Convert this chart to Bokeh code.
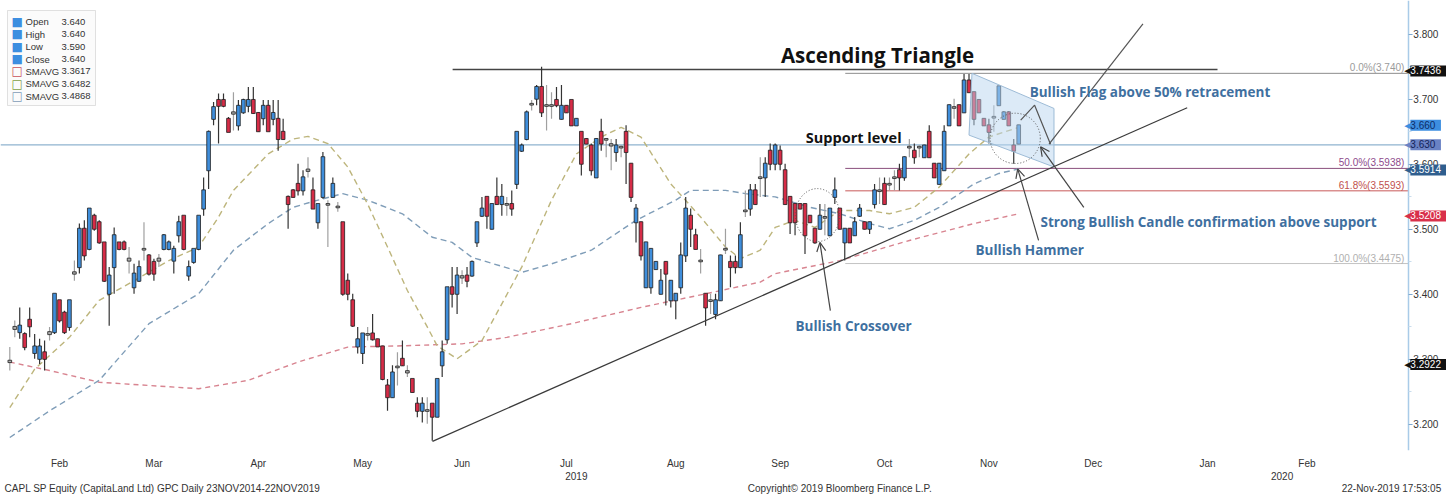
from bokeh.plotting import figure
from bokeh.models import (FixedTicker, LinearAxis, Label, Arrow, OpenHead, BoxAnnotation,
                          NumeralTickFormatter, Range1d, ColumnDataSource)
from bokeh.embed import file_html
from bokeh.resources import INLINE

# ---------------- data (daily OHLC, trading-day index 0..203) ----------------
opens = [3.296,3.347,3.342,3.339,3.361,3.310,3.301,3.311,3.339,3.342,3.391,3.372,3.350,3.432,3.442,3.501,3.470,3.521,3.511,3.480,
         3.401,3.442,3.480,3.480,3.452,3.411,3.421,3.469,3.460,3.450,3.452,3.470,3.470,3.452,3.491,3.521,3.429,3.450,3.470,3.532,
         3.591,3.670,3.699,3.699,3.670,3.678,3.660,3.680,3.690,3.699,3.679,3.671,3.690,3.670,3.670,3.650,3.550,3.560,3.570,3.560,
         3.590,3.560,3.511,3.550,3.538,3.550,3.534,3.511,3.421,3.391,3.320,3.310,3.338,3.340,3.331,3.320,3.260,3.242,3.288,3.301,
         3.280,3.270,3.232,3.221,3.221,3.232,3.212,3.291,3.331,3.411,3.401,3.426,3.429,3.429,3.480,3.521,3.550,3.501,3.550,3.539,
         3.538,3.539,3.570,3.621,3.639,3.692,3.701,3.719,3.690,3.690,3.699,3.670,3.690,3.699,3.660,3.650,3.639,3.629,3.580,3.650,
         3.638,3.629,3.619,3.626,3.650,3.601,3.511,3.511,3.411,3.411,3.439,3.401,3.450,3.391,3.391,3.411,3.460,3.521,3.491,3.451,
         3.401,3.390,3.370,3.391,3.469,3.450,3.450,3.442,3.528,3.532,3.560,3.579,3.580,3.621,3.601,3.621,3.591,3.550,3.539,3.539,
         3.539,3.521,3.501,3.501,3.518,3.491,3.550,3.532,3.480,3.501,3.491,3.521,3.511,3.501,3.539,3.559,3.570,3.569,3.579,3.591,
         3.580,3.626,3.621,3.626,3.611,3.650,3.601,3.570,3.591,3.660,3.687,3.691,3.680,3.729,3.711,3.699,3.670,3.660,3.672,3.691,
         3.670,3.680,3.629,3.632]
highs = [3.319,3.360,3.380,3.342,3.380,3.339,3.332,3.329,3.350,3.401,3.391,3.375,3.391,3.452,3.509,3.514,3.532,3.524,3.514,3.480,
         3.442,3.503,3.480,3.483,3.473,3.447,3.452,3.511,3.462,3.455,3.462,3.493,3.483,3.475,3.521,3.521,3.452,3.470,3.521,3.580,
         3.652,3.696,3.709,3.709,3.673,3.711,3.699,3.701,3.719,3.719,3.680,3.699,3.699,3.699,3.699,3.670,3.552,3.562,3.601,3.591,
         3.611,3.580,3.539,3.619,3.545,3.580,3.542,3.511,3.432,3.401,3.350,3.340,3.350,3.370,3.332,3.321,3.270,3.291,3.311,3.329,
         3.291,3.270,3.242,3.242,3.242,3.232,3.270,3.329,3.411,3.442,3.442,3.437,3.442,3.452,3.511,3.550,3.550,3.540,3.580,3.570,
         3.550,3.560,3.650,3.632,3.683,3.699,3.722,3.750,3.722,3.711,3.719,3.722,3.691,3.699,3.671,3.650,3.640,3.632,3.640,3.670,
         3.640,3.639,3.639,3.629,3.660,3.602,3.539,3.512,3.481,3.471,3.451,3.439,3.451,3.422,3.402,3.480,3.550,3.532,3.501,3.470,
         3.402,3.401,3.401,3.461,3.501,3.460,3.460,3.511,3.560,3.570,3.570,3.611,3.611,3.632,3.632,3.629,3.601,3.551,3.540,3.540,
         3.540,3.522,3.502,3.539,3.539,3.533,3.580,3.533,3.502,3.502,3.519,3.539,3.512,3.512,3.570,3.580,3.580,3.580,3.591,3.601,
         3.612,3.639,3.632,3.629,3.630,3.660,3.602,3.602,3.660,3.692,3.701,3.692,3.739,3.739,3.712,3.700,3.671,3.670,3.691,3.721,
         3.682,3.682,3.639,3.661]
lows = [3.283,3.334,3.332,3.314,3.334,3.301,3.293,3.283,3.329,3.339,3.357,3.339,3.344,3.421,3.432,3.452,3.468,3.498,3.478,3.419,
        3.352,3.401,3.468,3.468,3.432,3.401,3.419,3.452,3.429,3.421,3.442,3.468,3.468,3.432,3.480,3.468,3.421,3.447,3.468,3.521,
        3.562,3.660,3.632,3.688,3.650,3.652,3.652,3.678,3.680,3.678,3.650,3.660,3.651,3.660,3.621,3.638,3.501,3.549,3.552,3.552,
        3.580,3.532,3.501,3.547,3.473,3.549,3.527,3.398,3.391,3.350,3.309,3.293,3.329,3.329,3.319,3.268,3.221,3.241,3.260,3.290,
        3.273,3.249,3.211,3.203,3.201,3.175,3.211,3.273,3.324,3.380,3.370,3.416,3.411,3.427,3.473,3.519,3.501,3.500,3.538,3.521,
        3.521,3.521,3.562,3.619,3.637,3.683,3.691,3.673,3.652,3.670,3.688,3.669,3.679,3.659,3.659,3.583,3.631,3.583,3.579,3.621,
        3.611,3.591,3.604,3.611,3.570,3.542,3.480,3.452,3.410,3.401,3.438,3.400,3.383,3.380,3.362,3.401,3.450,3.473,3.469,3.432,
        3.352,3.370,3.362,3.390,3.462,3.411,3.432,3.441,3.519,3.521,3.538,3.550,3.550,3.591,3.591,3.591,3.538,3.493,3.491,3.531,
        3.462,3.510,3.478,3.500,3.491,3.490,3.539,3.500,3.452,3.479,3.490,3.519,3.500,3.493,3.532,3.539,3.538,3.560,3.560,3.560,
        3.575,3.611,3.601,3.611,3.610,3.610,3.579,3.569,3.590,3.659,3.670,3.659,3.679,3.710,3.660,3.679,3.659,3.632,3.650,3.690,
        3.669,3.659,3.601,3.631]
closes = [3.298,3.350,3.352,3.319,3.351,3.320,3.320,3.301,3.342,3.401,3.360,3.342,3.391,3.434,3.501,3.460,3.532,3.501,3.480,3.421,
          3.429,3.491,3.470,3.470,3.455,3.432,3.442,3.470,3.432,3.432,3.455,3.491,3.480,3.470,3.511,3.470,3.442,3.470,3.521,3.560,
          3.650,3.688,3.690,3.690,3.650,3.680,3.690,3.699,3.699,3.679,3.651,3.690,3.651,3.679,3.639,3.639,3.539,3.550,3.560,3.580,
          3.592,3.532,3.539,3.611,3.539,3.570,3.535,3.401,3.401,3.352,3.331,3.340,3.339,3.331,3.320,3.270,3.242,3.280,3.289,3.291,
          3.282,3.250,3.221,3.232,3.222,3.212,3.270,3.311,3.411,3.401,3.429,3.428,3.421,3.450,3.511,3.532,3.521,3.539,3.539,3.550,
          3.539,3.532,3.650,3.629,3.680,3.693,3.719,3.680,3.691,3.691,3.691,3.690,3.680,3.660,3.670,3.601,3.632,3.591,3.639,3.632,
          3.639,3.631,3.629,3.627,3.619,3.550,3.532,3.460,3.480,3.470,3.450,3.421,3.432,3.421,3.401,3.460,3.532,3.501,3.470,3.452,
          3.380,3.391,3.391,3.460,3.470,3.442,3.442,3.491,3.529,3.560,3.539,3.580,3.601,3.601,3.629,3.601,3.539,3.511,3.511,3.532,
          3.491,3.511,3.480,3.521,3.519,3.532,3.560,3.501,3.501,3.480,3.511,3.532,3.501,3.511,3.560,3.560,3.539,3.570,3.580,3.580,
          3.611,3.627,3.611,3.627,3.629,3.611,3.580,3.601,3.650,3.691,3.688,3.660,3.729,3.711,3.670,3.680,3.660,3.650,3.673,3.720,
          3.680,3.660,3.621,3.660]

# moving averages (index, value)
sma_short_idx = [0, 5, 12, 18, 25, 32, 38, 42, 45, 52, 57, 60, 64, 68, 72, 76, 80, 84, 86, 90, 95, 103, 109, 114, 119, 123,
                 127, 133, 139, 144, 147, 151, 154, 158, 162, 167, 173, 177, 182, 187, 193, 197, 203]
sma_short_val = [3.226, 3.285, 3.334, 3.391, 3.421, 3.452, 3.473, 3.519, 3.560, 3.616, 3.639, 3.643, 3.632, 3.596, 3.539,
                 3.473, 3.406, 3.350, 3.321, 3.301, 3.329, 3.442, 3.545, 3.616, 3.642, 3.657, 3.642, 3.570, 3.519, 3.473,
                 3.455, 3.468, 3.503, 3.514, 3.503, 3.529, 3.529, 3.524, 3.534, 3.565, 3.616, 3.642, 3.657]
sma_mid_idx = [0, 8, 18, 28, 38, 45, 52, 57, 62, 67, 72, 79, 85, 89, 93, 103, 109, 117, 126, 134, 137, 144, 148, 154, 161,
               167, 173, 177, 182, 187, 194, 199, 203]
sma_mid_val = [3.180, 3.221, 3.268, 3.355, 3.401, 3.468, 3.509, 3.534, 3.545, 3.555, 3.545, 3.524, 3.488, 3.480, 3.457,
               3.434, 3.447, 3.468, 3.514, 3.545, 3.560, 3.560, 3.555, 3.550, 3.534, 3.524, 3.509, 3.501, 3.514, 3.534,
               3.570, 3.586, 3.593]
sma_long_idx = [0, 8, 18, 28, 38, 48, 58, 68, 79, 91, 100, 113, 127, 140, 151, 154, 167, 181, 194, 203]
sma_long_val = [3.296, 3.283, 3.265, 3.260, 3.255, 3.268, 3.296, 3.319, 3.321, 3.324, 3.334, 3.355, 3.380, 3.401, 3.419,
                3.432, 3.452, 3.483, 3.509, 3.524]

month_ticks = [10, 29, 50, 71, 91, 112, 134, 155, 176, 197, 218, 241, 261]
month_labels = ["Feb", "Mar", "Apr", "May", "Jun", "Jul", "Aug", "Sep", "Oct", "Nov", "Dec", "Jan", "Feb"]
year_ticks = [114, 256]
year_labels = ["2019", "2020"]
price_ticks = [3.2, 3.3, 3.4, 3.5, 3.6, 3.7, 3.8]
price_minor = [3.25, 3.35, 3.45, 3.55, 3.65, 3.75]
footer_ticks = [31, 167, 278]
footer_texts = ["CAPL SP Equity (CapitaLand Ltd) GPC  Daily 23NOV2014-22NOV2019",
                "Copyright\u00a9 2019 Bloomberg Finance L.P.",
                "22-Nov-2019 17:53:05"]

legend_names = ["Open", "High", "Low", "Close", "SMAVG", "SMAVG", "SMAVG"]
legend_values = ["3.640", "3.640", "3.590", "3.640", "3.3617", "3.6482", "3.4868"]

support_level = 3.630
triangle_top = 3.746
fib_levels = [3.740, 3.5938, 3.5593, 3.4475]
fib_texts = ["0.0%(3.740)", "50.0%(3.5938)", "61.8%(3.5593)", "100.0%(3.4475)"]
fib_start = 168.1
badge_values = [3.7436, 3.660, 3.630, 3.5914, 3.5208, 3.2922]
badge_texts = ["3.7436", "3.660", "3.630", "3.5914", "3.5208", "3.2922"]

trend_x = [85.05, 236.9]; trend_y = [3.174, 3.687]
pole_x = [209.1, 228.0]; pole_y = [3.631, 3.816]
chev_x = [203.4, 206.2, 209.4]; chev_y = [3.668, 3.691, 3.631]
tri_x = [89.1, 243.0]
flag_x = [193.6, 210.1, 210.1, 193.0]; flag_y = [3.740, 3.686, 3.596, 3.645]
circ_x = [162.5, 202.3]; circ_y = [3.522, 3.640]; circ_w = [8.9, 10.1]; circ_h = [0.0815, 0.0775]

# ---------------- figure ----------------
W, H = 1446, 497
FH = 450
PX_PER_DAY = 4.97
X0 = -1.87
X_AX = 281.4                      # where the price axis sits
X1 = X0 + W / PX_PER_DAY          # frame spans the whole width; axis is pinned inside it
FW_AX = (X_AX - X0) * PX_PER_DAY  # screen x of the axis line
Y0, Y1 = 3.160, 3.852

p = figure(width=W, height=H, output_backend="svg", toolbar_location=None,
           x_range=Range1d(X0, X1), y_range=Range1d(Y0, Y1), y_axis_location=None,
           min_border_left=0, min_border_top=0, min_border_right=0, min_border_bottom=H - FH)
p.outline_line_color = None
p.grid.visible = False
p.background_fill_color = "white"
p.border_fill_color = "white"

AXFONT = "Liberation Sans"
TXT = "#333333"


def text_axis(ticks, labels, standoff):
    return LinearAxis(ticker=FixedTicker(ticks=ticks),
                      major_label_overrides={t: l for t, l in zip(ticks, labels)},
                      axis_line_color=None, major_tick_line_color=None, minor_tick_line_color=None,
                      major_tick_out=0, major_tick_in=0, minor_tick_out=0, major_label_standoff=standoff,
                      major_label_text_font=AXFONT, major_label_text_font_size="10px",
                      major_label_text_color=TXT)


p.xaxis.visible = False
p.add_layout(text_axis(month_ticks, month_labels, 7), "below")
p.add_layout(text_axis(year_ticks, year_labels, 0), "below")
p.add_layout(text_axis(footer_ticks, footer_texts, 0), "below")

ya = LinearAxis(fixed_location=X_AX,
                ticker=FixedTicker(ticks=price_ticks, minor_ticks=price_minor),
                formatter=NumeralTickFormatter(format="0.000"),
                axis_line_color="#a9cbe8", axis_line_width=1.5,
                major_tick_line_color="#7ea9cf", major_tick_out=4, major_tick_in=0,
                minor_tick_line_color="#c9dcec", minor_tick_out=3, minor_tick_in=0,
                major_label_standoff=1, major_label_text_font=AXFONT,
                major_label_text_font_size="10px", major_label_text_color=TXT)
p.add_layout(ya, "right")

# ---------------- reference lines ----------------
p.line([X0, X_AX], [support_level, support_level], line_color="#8fb3cf", line_width=1.3)
p.line(tri_x, [triangle_top, triangle_top], line_color="#444444", line_width=1.5)
fib_colors = ["#8c8c8c", "#8a4f7d", "#c85a5a", "#c4c4c4"]
fib_text_colors = ["#9a9a9a", "#8e4a8c", "#c0504d", "#b0b0b0"]
for lv, col in zip(fib_levels, fib_colors):
    p.line([fib_start, X_AX], [lv, lv], line_color=col, line_width=1)

# ---------------- moving averages ----------------
p.line(sma_long_idx, sma_long_val, line_color="#d88490", line_width=1.4, line_dash="5 4")
p.line(sma_mid_idx, sma_mid_val, line_color="#7f9db8", line_width=1.4, line_dash="6 4")
p.line(sma_short_idx, sma_short_val, line_color="#bdb57c", line_width=1.4, line_dash="6 4")

# ---------------- candles ----------------
idx = list(range(len(opens)))
fills, wicks, tops, bots = [], [], [], []
for o, c in zip(opens, closes):
    if c - o > 0.0035:
        fills.append("#3f8edb"); wicks.append("#333333")
    elif o - c > 0.0035:
        fills.append("#d62c47"); wicks.append("#333333")
    else:
        fills.append("#b0b0b0"); wicks.append("#a0a0a0")
    tops.append(max(o, c) + 0.0008)
    bots.append(min(o, c) - 0.0008)
src = ColumnDataSource(dict(x=idx, o=opens, h=highs, l=lows, c=closes, top=tops, bot=bots, fill=fills, wick=wicks))
p.segment(x0="x", y0="h", x1="x", y1="l", color="wick", line_width=1.2, source=src)
p.vbar(x="x", width=0.74, top="top", bottom="bot", fill_color="fill", line_color="#1e1e1e", line_width=0.8, source=src)

# ---------------- pattern drawings ----------------
p.patch(flag_x, flag_y, fill_color="#b9d5ef", fill_alpha=0.5, line_color="#9dbbd6", line_width=1)
p.line(trend_x, trend_y, line_color="#3a3a3a", line_width=1.2)
p.line(pole_x, pole_y, line_color="#555555", line_width=1.2)
p.line(chev_x, chev_y, line_color="#555555", line_width=1.2)
p.ellipse(x=circ_x, y=circ_y, width=circ_w, height=circ_h, fill_color=None, line_color="#555555",
          line_dash="1 2", line_width=1)

arrows = [((165.1, 3.375), (163.0, 3.480)),
          ((207.0, 3.483), (202.8, 3.593)),
          ((216.1, 3.534), (207.4, 3.627))]
for (xs, ys), (xe, ye) in arrows:
    p.add_layout(Arrow(end=OpenHead(size=9, line_color="#444444", line_width=1.2),
                       x_start=xs, y_start=ys, x_end=xe, y_end=ye, line_color="#444444", line_width=1.2))

ANNFONT = "Open Sans"
BLUE = "#3f70a0"
p.add_layout(Label(x=174.6, y=3.768, text="Ascending Triangle", text_align="center", text_baseline="middle",
                   text_font=ANNFONT, text_font_style="bold", text_font_size="20.5px", text_color="#111111"))
p.add_layout(Label(x=169.8, y=3.642, text="Support level", text_align="center", text_baseline="middle",
                   text_font=ANNFONT, text_font_style="bold", text_font_size="14.5px", text_color="#111111"))
ann_texts = ["Bullish Flag above 50% retracement", "Strong Bullish Candle confirmation above support",
             "Bullish Hammer", "Bullish Crossover"]
ann_x = [205.2, 207.4, 194.3, 158.1]
ann_y = [3.712, 3.511, 3.469, 3.352]
for t, x, y in zip(ann_texts, ann_x, ann_y):
    p.add_layout(Label(x=x, y=y, text=t, text_align="left", text_baseline="middle",
                       text_font=ANNFONT, text_font_style="bold", text_font_size="13.5px", text_color=BLUE))

for lv, t, col in zip(fib_levels, fib_texts, fib_text_colors):
    p.add_layout(Label(x=FW_AX - 4, x_units="screen", y=lv, text=t, text_align="right", text_baseline="bottom",
                       text_font=AXFONT, text_font_size="10px", text_color=col))

# price badges over the axis
badge_bg = ["#111111", "#3d8ee0", "#6a82c4", "#2f5e8e", "#d9304a", "#111111"]
badge_fg = ["white", "#0d2c66", "#13225a", "white", "white", "white"]
for v, t, bg, fg in zip(badge_values, badge_texts, badge_bg, badge_fg):
    p.add_layout(Label(x=FW_AX - 4, x_units="screen", y=v, text="\u25C0", text_align="left",
                       text_baseline="middle", text_font="DejaVu Sans", text_font_size="11px", text_color=bg))
    p.add_layout(Label(x=FW_AX + 2, x_units="screen", y=v, text=" " + t + " ", text_align="left",
                       text_baseline="middle", text_font=AXFONT, text_font_size="10px", text_color=fg,
                       background_fill_color=bg, background_fill_alpha=1.0))

# ---------------- legend box (top-left) ----------------
p.add_layout(BoxAnnotation(left=7, right=95, top=FH - 10, bottom=FH - 105,
                           left_units="screen", right_units="screen", top_units="screen", bottom_units="screen",
                           fill_color="#fbfbfb", fill_alpha=1.0, line_color="#a0a0a0", line_width=1))
row_y = [21, 33.5, 46, 58.5, 70.5, 83, 95.5]
icon_txt = ["\u25A0"] * 4 + ["\u25A1"] * 3
icon_col = ["#3d8ee0"] * 4 + ["#c9505a", "#7f9f45", "#7f9db8"]
for ry, nm, vl, ic, icc in zip(row_y, legend_names, legend_values, icon_txt, icon_col):
    yy = FH - ry
    p.add_layout(Label(x=11, y=yy, x_units="screen", y_units="screen", text=ic, text_baseline="middle",
                       text_font="DejaVu Sans", text_font_size="12px", text_color=icc))
    p.add_layout(Label(x=25, y=yy, x_units="screen", y_units="screen", text=nm, text_baseline="middle",
                       text_font=AXFONT, text_font_size="9.5px", text_color=TXT))
    p.add_layout(Label(x=61, y=yy, x_units="screen", y_units="screen", text=vl, text_baseline="middle",
                       text_font=AXFONT, text_font_size="9.5px", text_color=TXT))

open("out.html", "w").write(file_html(p, INLINE))
